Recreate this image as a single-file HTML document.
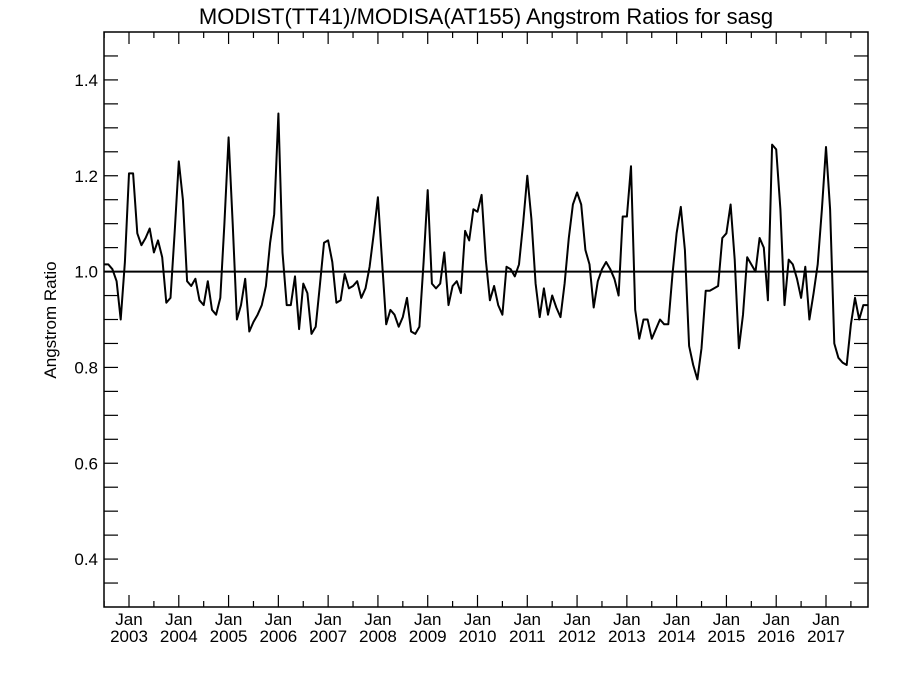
<!DOCTYPE html>
<html><head><meta charset="utf-8"><style>
body{margin:0;background:#fff;}
svg{display:block;font-family:"Liberation Sans",sans-serif;}
</style></head><body>
<svg id="chart" width="900" height="675" viewBox="0 0 900 675">
<text x="486" y="24" text-anchor="middle" font-size="22">MODIST(TT41)/MODISA(AT155)  Angstrom Ratios for sasg</text>
<text transform="translate(56,320) rotate(-90)" text-anchor="middle" font-size="17">Angstrom Ratio</text>
<rect x="104" y="32" width="764" height="575" fill="none" stroke="#000" stroke-width="1.5"/>
<g id="axes"></g>
<g id="series"></g>
</svg>
<script>
const startYear = 2002, startMonth = 6; // July 2002 (0-based month)
const yTickLabels = ["0.4","0.6","0.8","1.0","1.2","1.4"];
const xYearLabels = ["2003","2004","2005","2006","2007","2008","2009","2010","2011","2012","2013","2014","2015","2016","2017"];
const ratios = [
1.015,1.015,1.005,0.98,0.90,1.02,
1.205,1.205,1.08,1.055,1.07,1.09,1.04,1.065,1.03,0.935,0.945,1.08,
1.23,1.15,0.98,0.97,0.985,0.94,0.93,0.98,0.92,0.91,0.945,1.1,
1.28,1.1,0.9,0.93,0.985,0.875,0.895,0.91,0.93,0.97,1.06,1.12,
1.33,1.04,0.93,0.93,0.99,0.88,0.975,0.955,0.87,0.885,0.97,1.06,
1.065,1.02,0.935,0.94,0.995,0.965,0.97,0.98,0.945,0.965,1.01,1.08,
1.155,1.02,0.89,0.92,0.91,0.885,0.905,0.945,0.875,0.87,0.885,1.02,
1.17,0.975,0.965,0.975,1.04,0.93,0.97,0.98,0.955,1.085,1.065,1.13,
1.125,1.16,1.025,0.94,0.97,0.93,0.91,1.01,1.005,0.99,1.015,1.1,
1.2,1.11,0.975,0.905,0.965,0.91,0.95,0.925,0.905,0.975,1.07,1.14,
1.165,1.14,1.045,1.015,0.925,0.98,1.005,1.02,1.005,0.985,0.95,1.115,
1.115,1.22,0.92,0.86,0.9,0.9,0.86,0.88,0.9,0.89,0.89,0.995,
1.08,1.135,1.045,0.845,0.805,0.775,0.84,0.96,0.96,0.965,0.97,1.07,
1.08,1.14,1.025,0.84,0.91,1.03,1.015,1.0,1.07,1.05,0.94,1.265,
1.255,1.13,0.93,1.025,1.015,0.985,0.945,1.01,0.9,0.955,1.015,1.13,
1.26,1.13,0.85,0.82,0.81,0.805,0.89,0.945,0.9,0.93,0.93
];
const refValue = 1.0;
const X0=104,X1=868,Y0=32,Y1=607,yMin=0.3,yMax=1.5;
const jan2003X=129, pxPerYear=(826-129)/14;
function xMonth(idxFromJul2002){return jan2003X+(idxFromJul2002-6)*pxPerYear/12;}
function yScale(v){return Y1-(v-yMin)/(yMax-yMin)*(Y1-Y0);}
const NS="http://www.w3.org/2000/svg";
const axes=document.getElementById('axes'), series=document.getElementById('series');
function line(p,x1,y1,x2,y2,w,name){const l=document.createElementNS(NS,'line');l.setAttribute('x1',x1);l.setAttribute('y1',y1);l.setAttribute('x2',x2);l.setAttribute('y2',y2);l.setAttribute('stroke','#000');l.setAttribute('stroke-width',w);


p.appendChild(l);}
function text(p,x,y,s,anchor,size,name){const t=document.createElementNS(NS,'text');t.setAttribute('x',x);t.setAttribute('y',y);t.setAttribute('text-anchor',anchor);t.setAttribute('font-size',size);t.textContent=s;


p.appendChild(t);}
// y ticks every 0.05
for(let k=0;k<=24;k++){const v=yMin+k*0.05;const y=yScale(v);if(y<=Y0+0.5||y>=Y1-0.5)continue;
line(axes,X0,y,X0+14,y,1.2,'y-tick');line(axes,X1-14,y,X1,y,1.2,'y-tick-right');}
yTickLabels.forEach(s=>{text(axes,X0-6,yScale(parseFloat(s))+6,s,'end',17,'y-tick-label');});
// x ticks
for(let m=0;m<=ratios.length+2;m++){const ym=(startMonth+m)%12;if(ym!==0&&ym!==6)continue;const x=xMonth(m);if(x<=X0||x>=X1)continue;const len=ym===0?12:6;
line(axes,x,Y1,x,Y1-len,1.2,'x-tick');line(axes,x,Y0,x,Y0+len,1.2,'x-tick-top');}
xYearLabels.forEach((s,i)=>{const x=jan2003X+i*pxPerYear;text(axes,x,625,'Jan','middle',17,'x-tick-label-month');text(axes,x,642,s,'middle',17,'x-tick-label-year');});
// reference line
line(series,X0,yScale(refValue),X1,yScale(refValue),2,'reference-line-1');
// data series
const pts=ratios.map((v,i)=>xMonth(i).toFixed(1)+','+yScale(v).toFixed(1)).join(' ');
const pl=document.createElementNS(NS,'polyline');pl.setAttribute('points',pts);pl.setAttribute('fill','none');pl.setAttribute('stroke','#000');pl.setAttribute('stroke-width','2');pl.setAttribute('stroke-linejoin','round');


series.appendChild(pl);
</script>
</body></html>
